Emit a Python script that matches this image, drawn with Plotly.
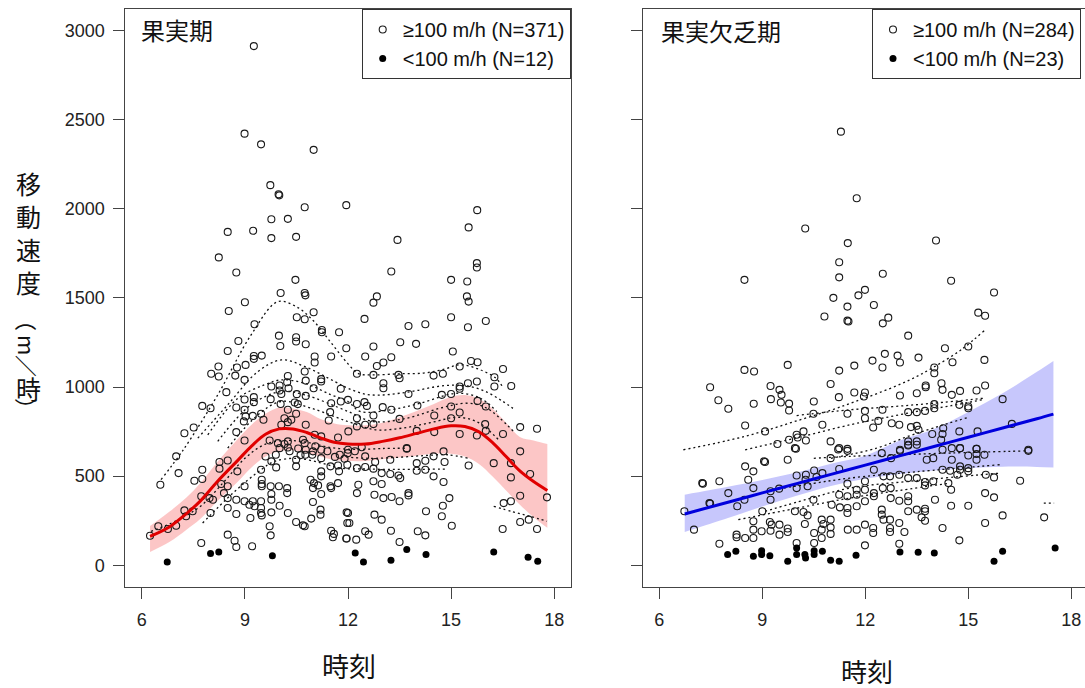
import plotly.graph_objects as go

W, H = 1085, 688
def px_x(p): return p / W
def px_y(p): return 1 - p / H

# ---------------- 果実期 (left panel) ----------------
fruit_open = [
 (9.26,2912),(8.99,2421),(9.47,2361),(11.00,2330),(9.74,2132),(9.98,2081),(10.00,2075),(10.74,2008),(11.95,2020),
 (9.77,1941),(10.25,1943),(8.50,1870),(9.24,1876),(9.77,1835),(10.49,1842),(8.24,1727),(8.75,1642),(10.47,1601),
 (10.04,1527),(10.74,1527),(10.76,1514),
 (15.76,1992),(15.51,1895),(13.44,1825),(15.75,1695),(15.75,1670),(13.26,1648),(15.00,1601),(15.47,1592),(12.84,1508),(15.46,1508),
 (9.00,1475),(8.53,1426),(11.00,1419),(10.51,1391),(10.74,1380),(9.28,1352),(11.24,1320),(11.24,1307),(11.74,1307),(9.99,1288),
 (10.49,1279),(10.49,1255),(10.03,1230),(10.77,1240),(8.81,1258),(8.50,1202),(9.26,1174),(9.26,1158),(9.49,1176),(11.03,1171),
 (11.03,1137),(11.51,1171),(11.95,1217),(8.23,1115),(8.02,1074),(8.24,1059),(8.77,1109),(9.02,1124),(8.72,1064),(8.99,1040),
 (10.25,1062),(10.23,1027),(10.74,1087),(11.22,1044),(11.22,1031),(11.79,990),(10.77,1036),(11.00,993),(9.77,1003),(10.01,1008),
 (10.01,980),(10.06,961),(10.27,993),(8.46,971),(10.51,960),(10.77,950),(9.26,943),(9.26,915),(8.99,930),(9.75,932),(7.76,894),
 (8.00,881),(8.75,885),(10.04,905),(10.45,913),(10.54,904),(10.25,872),(10.49,850),(11.51,909),(11.79,919),(12.00,928),(11.48,859),
 (11.44,812),(8.99,872),(9.02,835),(8.97,807),(9.23,838),(9.47,850),(9.54,816),(8.75,747),(7.24,741),(7.51,773),(8.99,700),
 (10.15,825),(10.25,803),(10.35,816),(10.06,788),(10.77,788),(11.03,732),(11.22,723),(11.71,717),(9.72,700),(9.96,685),(10.15,680),
 (10.25,695),(10.69,704),(10.74,685),
 (12.74,1473),(15.51,1479),(12.48,1382),(13.76,1342),(14.25,1352),(15.00,1391),(15.49,1335),(16.01,1370),(12.74,1227),(13.52,1251),
 (13.98,1242),(12.50,1171),(13.26,1167),(13.03,1137),(12.84,1118),(15.05,1199),(12.26,1074),(12.74,1068),(13.47,1068),(13.50,1049),
 (13.03,1021),(13.03,993),(14.49,1064),(14.76,1074),(15.25,1115),(15.58,1146),(15.77,1139),(16.51,1101),(16.26,1055),(16.26,1003),
 (16.75,1006),(15.49,1021),(15.75,1031),(15.25,1003),(15.25,990),(13.76,961),(14.73,956),(15.00,961),(12.26,905),(12.48,915),
 (12.55,894),(13.01,887),(13.26,872),(14.02,896),(15.77,922),(16.01,891),(15.00,891),(15.25,857),(15.00,825),(14.51,840),(12.26,825),
 (12.74,840),(12.50,788),(12.74,792),(12.26,779),(12.01,751),(13.50,821),(15.99,792),(17.01,775),(17.50,766),(14.00,754),(14.51,747),
 (15.25,736),(15.75,728),(16.01,754),(16.51,736),(13.71,657),
 (7.00,611),(7.07,517),(6.54,452),(6.48,219),(6.24,166),(6.76,204),(7.00,222),(7.24,308),(7.48,303),(7.29,275),(7.53,474),(7.76,536),
 (7.76,484),(7.73,387),(7.97,377),(8.00,293),(8.26,579),(8.26,542),(8.50,588),(8.31,456),(8.50,443),(8.39,405),(8.07,368),(8.50,377),
 (8.75,368),(8.50,321),(8.78,527),(8.75,288),(8.99,443),(8.99,359),(9.13,340),(9.23,359),(9.47,359),(9.28,331),(9.47,321),(9.47,293),
 (9.49,280),(9.16,265),(9.49,480),(9.49,456),(9.49,443),(9.75,443),(9.99,443),(10.23,433),(10.23,405),(9.77,400),(9.77,368),(10.01,334),
 (9.77,297),(10.25,293),(9.72,219),(9.75,168),(8.50,172),(8.70,138),(8.75,103),(9.21,107),(7.73,125),(10.49,243),(10.69,224),(10.74,219),
 (10.93,262),(11.20,284),(11.20,312),(10.98,355),(11.22,400),(10.98,433),(11.01,461),(10.91,480),(11.13,448),(11.22,499),(11.22,527),
 (10.49,555),(10.49,592),(10.76,620),(10.77,648),(10.96,620),(10.98,639),(11.22,601),(11.22,648),(11.49,555),(11.71,560),(11.74,527),
 (11.49,443),(11.51,433),(11.71,461),(11.51,194),(11.59,176),(11.56,157),(11.95,150),(11.98,237),(12.00,293),(9.77,583),(9.91,549),
 (9.47,536),(10.01,657),(10.25,661),(11.76,620),(12.00,648),
 (10.30,640),(10.55,655),(10.62,618),(11.05,668),(11.40,640),(11.62,608),(11.90,598),(12.20,640),(12.40,662),(9.90,620),(9.60,610),
 (11.99,629),(11.98,564),(12.26,545),(12.50,551),(12.74,542),(12.98,517),(13.23,512),(13.47,504),(13.52,489),(14.00,530),(14.25,536),
 (14.49,499),(14.78,467),(12.74,471),(12.98,456),(12.30,452),(12.26,405),(12.77,396),(13.03,377),(13.27,383),(13.50,359),(13.76,405),
 (13.76,392),(13.71,654),(13.23,592),(12.79,579),(12.50,611),(14.00,573),(14.25,586),(14.49,611),(14.78,639),(14.81,579),(15.51,560),
 (16.24,573),(16.74,573),(17.01,639),(16.74,493),(17.30,512),(17.01,390),(17.79,381),(16.53,349),(16.74,359),(14.95,377),(14.76,334),
 (14.73,275),(15.02,222),(14.27,303),(17.01,243),(17.26,256),(17.50,204),(16.50,204),(12.77,284),(12.98,256),(11.96,297),(12.04,237),
 (11.96,150),(12.24,144),(12.50,191),(12.60,172),(13.25,194),(13.50,131),(14.03,191),(14.25,168),
]
fruit_open_hour = [p[0] for p in fruit_open]
fruit_open_speed = [p[1] for p in fruit_open]

fruit_slow_hour = [6.74, 8.00, 8.24, 9.80, 12.21, 12.45, 13.25, 13.71, 14.27, 16.24, 17.24, 17.52]
fruit_slow_speed = [19, 66, 75, 54, 69, 19, 28, 88, 60, 75, 45, 23]

fruit_fit_hour = [6.24, 6.8, 7.3, 7.7, 8.2, 8.8, 9.2, 9.6, 10.0, 10.4, 10.8, 11.2, 11.6, 12.0, 12.5, 13.0,
                  13.5, 14.0, 14.5, 15.0, 15.4, 15.8, 16.2, 16.6, 17.0, 17.4, 17.8]
fruit_fit_speed = [162, 215, 290, 360, 470, 590, 670, 735, 765, 765, 745, 715, 690, 680, 680, 695,
                   715, 740, 765, 782, 778, 750, 690, 610, 530, 470, 420]
fruit_fit_lo = [75, 130, 200, 260, 360, 470, 550, 610, 640, 645, 630, 610, 590, 585, 585, 595,
                605, 615, 625, 625, 610, 570, 500, 420, 340, 270, 210]
fruit_fit_hi = [220, 300, 380, 460, 580, 710, 790, 850, 885, 880, 860, 820, 795, 785, 785, 800,
                830, 865, 905, 945, 955, 935, 880, 800, 720, 700, 680]

fruit_ind_1 = ([6.56, 7.24, 8.21, 9.18, 9.96, 10.5, 11.0, 11.5, 12.0, 12.3, 12.74, 13.47, 14.2, 14.8, 15.25, 15.8, 16.3, 16.5],
               [480, 657, 956, 1292, 1479, 1450, 1370, 1250, 1130, 1075, 1068, 1074, 1078, 1100, 1125, 1100, 1050, 1000])
fruit_ind_2 = ([7.63, 8.5, 9.38, 10.06, 10.74, 11.61, 12.0, 12.5, 13.0, 13.5, 14.0, 14.5, 15.0, 15.5, 16.0, 16.5, 16.8],
               [713, 900, 1087, 1152, 1115, 1031, 993, 960, 955, 965, 980, 1000, 1010, 1005, 975, 920, 880])
fruit_ind_3 = ([7.92, 8.8, 9.57, 10.06, 10.74, 11.51, 12.0, 12.35, 13.23, 14.1, 15.17, 15.85, 16.33],
               [732, 937, 1012, 1040, 1021, 956, 919, 863, 872, 909, 965, 937, 863])
fruit_ind_4 = ([8.21, 9.18, 10.06, 10.74, 12.0, 12.74, 13.71, 14.68, 15.46, 16.04, 16.82],
               [695, 900, 975, 956, 863, 806, 825, 881, 909, 881, 750])
fruit_ind_5 = ([8.5, 9.38, 10.06, 10.93, 12.0, 12.8, 13.6, 14.4, 15.2, 15.8, 16.4],
               [657, 844, 919, 881, 806, 760, 770, 800, 830, 800, 700])
fruit_ind_6 = ([7.77, 8.65, 9.47, 9.86, 10.5, 11.2, 11.8, 12.5, 13.2, 14.0, 14.9],
               [237, 405, 536, 583, 600, 575, 545, 540, 538, 538, 540])
fruit_ind_7 = ([6.27, 7.0, 7.7, 8.4, 9.0, 9.6, 10.2, 10.8, 11.5, 12.2, 13.0, 13.7],
               [190, 250, 330, 470, 600, 680, 700, 690, 660, 650, 655, 657])
fruit_ind_8 = ([16.24, 16.8, 17.3, 17.79], [331, 300, 275, 247])
fruit_ind_9 = ([11.8, 12.6, 13.4, 14.2, 14.9, 15.5], [610, 600, 605, 615, 620, 600])
fruit_ind = [fruit_ind_1, fruit_ind_2, fruit_ind_3, fruit_ind_4, fruit_ind_5, fruit_ind_6,
             fruit_ind_7, fruit_ind_8, fruit_ind_9]

# ---------------- 果実欠乏期 (right panel) ----------------
lean_open = [
 (11.29,2432),(11.75,2059),(10.25,1889),(11.49,1807),(11.24,1700),(11.24,1615),(8.48,1601),(11.07,1500),
 (14.06,1822),(12.51,1635),(14.50,1596),(11.99,1545),(11.80,1514),(15.75,1530),
 (11.48,1451),(10.81,1395),(11.48,1372),(11.51,1367),(9.74,1124),(8.48,1096),(8.76,1087),(11.24,1092),(11.68,1120),(7.48,999),
 (9.24,1006),(9.50,984),(9.56,956),(7.72,926),(8.01,878),(8.75,906),(9.25,932),(9.54,913),(9.78,907),(9.78,868),(10.99,1017),
 (11.23,943),(11.68,969),(10.50,919),(10.49,850),(11.48,850),(8.50,784),(9.08,751),(10.75,788),(10.20,751),(10.00,732),(10.03,717),
 (10.27,700),(9.78,704),(9.44,680),(9.95,657),(10.99,695),(11.24,657),(11.48,653),
 (12.25,1460),(12.67,1389),(12.51,1357),(15.29,1417),(15.49,1400),(13.25,1288),(12.57,1186),(12.94,1176),(13.01,1137),(13.55,1165),
 (12.21,1148),(12.50,1109),(14.32,1217),(15.00,1227),(14.54,1139),(15.47,1152),(14.01,1109),(14.01,1077),(13.76,1008),(13.76,999),
 (14.22,1021),(14.25,984),(14.52,956),(14.76,978),(15.24,980),(15.49,1008),(13.50,965),(13.01,952),(11.99,969),(11.96,947),
 (12.50,872),(11.99,866),(11.99,825),(12.38,810),(12.23,773),(12.77,797),(12.99,788),(13.25,859),(13.50,859),(13.74,866),(14.01,904),
 (14.01,881),(14.74,900),(15.00,891),(15.00,881),(16.00,932),(16.27,793),(13.33,775),(13.50,782),(13.55,760),(14.27,769),(14.25,736),
 (13.95,736),(14.21,704),(14.74,751),(15.27,751),(13.25,695),(13.50,695),(13.25,676),(13.50,676),(13.01,648),(14.52,657),(14.76,657),
 (15.24,653),(16.75,648),
 (9.98,654),(9.74,592),(9.05,583),(9.08,579),(8.50,555),(8.74,527),(8.59,480),(7.25,461),(7.27,458),(7.75,471),(8.74,433),(8.01,405),
 (8.48,368),(8.27,331),(7.46,349),(7.48,346),(6.73,303),(7.01,200),(7.75,121),(9.00,303),(9.24,415),(9.49,430),(9.24,368),(10.00,504),
 (10.27,508),(10.51,532),(10.58,495),(10.75,517),(10.26,480),(10.32,443),(10.00,433),(10.99,601),(11.21,650),(11.48,642),(11.24,540),
 (11.48,458),(11.24,396),(11.48,387),(10.49,368),(11.02,340),(11.26,325),(11.48,321),(11.48,293),(9.95,303),(10.20,299),(10.32,280),
 (8.74,247),(9.22,243),(9.27,228),(9.50,228),(9.74,206),(9.74,187),(10.24,232),(10.73,256),(10.99,256),(10.78,232),(10.99,213),
 (10.73,200),(10.99,176),(10.51,181),(10.73,153),(10.51,125),(11.49,200),(8.74,200),(8.98,191),(9.24,194),(9.50,172),(8.25,172),
 (8.25,157),(8.50,153),(8.74,153),(10.00,125),
 (12.48,629),(13.01,642),(13.25,672),(12.75,601),(13.79,592),(13.98,601),(14.25,648),(14.52,592),(14.76,657),(15.00,616),(15.24,654),
 (15.24,624),(15.24,592),(15.47,620),(16.75,642),(12.53,499),(12.72,499),(12.99,508),(13.25,489),(13.50,489),(13.74,467),(13.74,448),
 (13.98,471),(14.25,536),(14.47,530),(14.76,555),(14.76,536),(15.00,545),(15.00,527),(14.68,508),(14.42,461),(14.50,424),(15.51,508),
 (15.75,493),(16.51,474),(15.49,405),(15.75,381),(12.25,536),(11.99,471),(12.25,405),(12.25,387),(11.75,424),(11.99,424),(11.75,396),
 (11.99,359),(12.51,433),(12.74,433),(12.74,377),(12.99,362),(13.25,387),(13.25,359),(13.25,303),(13.50,312),(13.74,317),(13.74,303),
 (13.74,250),(13.64,269),(14.03,368),(14.50,334),(15.00,334),(12.48,312),(12.48,284),(12.53,256),(12.72,256),(12.99,237),(12.72,209),
 (12.72,187),(12.23,209),(12.23,181),(11.99,228),(11.75,331),(11.75,200),(11.99,112),(13.14,187),(12.99,121),(14.25,209),(14.74,140),
 (15.49,237),(16.00,280),(17.21,269),
]
lean_open_hour = [p[0] for p in lean_open]
lean_open_speed = [p[1] for p in lean_open]

lean_slow_hour = [7.99, 8.23, 8.74, 8.98, 8.98, 9.22, 9.74, 10.00, 10.00, 10.24, 10.26, 10.51, 10.51, 10.75,
                  10.99, 11.24, 11.73, 13.01, 13.54, 14.01, 15.75, 16.00, 17.53]
lean_slow_speed = [60, 79, 51, 82, 60, 54, 23, 97, 60, 60, 41, 82, 60, 79, 28, 23, 56, 75, 73, 69, 23, 79, 97]

lean_fit_hour = [6.74, 8.0, 9.0, 10.0, 11.0, 12.0, 13.0, 14.0, 15.0, 16.0, 17.0, 17.48]
lean_fit_speed = [288, 354, 406, 458, 510, 562, 614, 666, 718, 770, 822, 848]
lean_fit_lo = [187, 265, 330, 390, 445, 485, 512, 532, 545, 553, 552, 548]
lean_fit_hi = [396, 440, 478, 520, 570, 615, 700, 765, 860, 965, 1085, 1146]

lean_ind_1 = ([6.7, 8.0, 9.0, 10.0, 11.0, 11.7, 12.5, 13.3, 13.98, 14.8, 15.49],
              [648, 700, 750, 810, 870, 918, 975, 1040, 1110, 1210, 1320])
lean_ind_2 = ([8.5, 10.0, 11.6, 12.5, 13.5, 14.5, 15.44], [648, 715, 790, 825, 863, 895, 930])
lean_ind_3 = ([10.0, 11.55, 12.8, 13.98, 15.44], [840, 872, 890, 909, 937])
lean_ind_4 = ([11.0, 12.33, 13.2, 13.98, 15.0], [600, 657, 720, 770, 830])
lean_ind_5 = ([10.5, 11.55, 13.0, 14.5, 16.75], [600, 611, 620, 630, 642])
lean_ind_6 = ([9.2, 10.5, 11.55, 13.5, 15.92], [420, 460, 489, 525, 564])
lean_ind_7 = ([9.08, 10.3, 11.55, 13.5, 15.92], [303, 370, 433, 475, 517])
lean_ind_8 = ([8.3, 10.0, 11.55, 13.0, 14.47], [256, 320, 377, 420, 461])
lean_ind_9 = ([17.2, 17.5], [349, 349])
lean_ind = [lean_ind_1, lean_ind_2, lean_ind_3, lean_ind_4, lean_ind_5, lean_ind_6,
            lean_ind_7, lean_ind_8, lean_ind_9]

legend_labels_fruit = ["≥100 m/h (N=371)", "<100 m/h (N=12)"]
legend_labels_lean = ["≥100 m/h (N=284)", "<100 m/h (N=23)"]
panel_titles = ["果実期", "果実欠乏期"]
x_title = "時刻"
# (character, rotated?)
y_title_chars = [("移", False), ("動", False), ("速", False), ("度", False), ("（", True),
                 ("m", True), ("／", True), ("時", False), ("）", True)]
x_ticks = [6, 9, 12, 15, 18]
y_ticks = [0, 500, 1000, 1500, 2000, 2500, 3000]

fig = go.Figure()

def add_panel(xa, ya, leg, fit_h, fit_s, lo, hi, band_col, line_col, inds,
              oh, os_, sh, ss, labels):
    fig.add_trace(go.Scatter(x=fit_h, y=lo, mode="lines", line=dict(width=0, shape="spline"),
                             xaxis=xa, yaxis=ya, showlegend=False, hoverinfo="skip"))
    fig.add_trace(go.Scatter(x=fit_h, y=hi, mode="lines", line=dict(width=0, shape="spline"),
                             fill="tonexty", fillcolor=band_col, xaxis=xa, yaxis=ya,
                             showlegend=False, hoverinfo="skip"))
    for hx, sy in inds:
        fig.add_trace(go.Scatter(x=hx, y=sy, mode="lines",
                                 line=dict(color="#111", width=1.3, dash="2px,3px", shape="spline"),
                                 xaxis=xa, yaxis=ya, showlegend=False, hoverinfo="skip"))
    fig.add_trace(go.Scatter(x=oh, y=os_, mode="markers", name=labels[0],
                             marker=dict(symbol="circle-open", size=7, color="#1a1a1a",
                                         line=dict(width=1.1, color="#1a1a1a")),
                             xaxis=xa, yaxis=ya, legend=leg))
    fig.add_trace(go.Scatter(x=sh, y=ss, mode="markers", name=labels[1],
                             marker=dict(symbol="circle", size=7, color="#000"),
                             xaxis=xa, yaxis=ya, legend=leg))
    fig.add_trace(go.Scatter(x=fit_h, y=fit_s, mode="lines",
                             line=dict(color=line_col, width=3, shape="spline"),
                             xaxis=xa, yaxis=ya, showlegend=False, hoverinfo="skip"))

add_panel("x", "y", "legend", fruit_fit_hour, fruit_fit_speed, fruit_fit_lo, fruit_fit_hi,
          "rgba(245,60,60,0.29)", "#e00000", fruit_ind,
          fruit_open_hour, fruit_open_speed, fruit_slow_hour, fruit_slow_speed, legend_labels_fruit)
add_panel("x2", "y2", "legend2", lean_fit_hour, lean_fit_speed, lean_fit_lo, lean_fit_hi,
          "rgba(70,70,245,0.30)", "#0000dd", lean_ind,
          lean_open_hour, lean_open_speed, lean_slow_hour, lean_slow_speed, legend_labels_lean)

tickfont = dict(family="Liberation Sans, Arial, sans-serif", size=18, color="#222")
xa_common = dict(tickvals=x_ticks, ticks="outside", ticklen=11, tickwidth=1, tickcolor="#444",
                 showline=True, linecolor="#444", linewidth=1, showgrid=False, zeroline=False,
                 tickfont=tickfont, ticklabelstandoff=6)
ya_common = dict(tickvals=y_ticks, ticks="outside", ticklen=11, tickwidth=1, tickcolor="#444",
                 showline=True, linecolor="#444", linewidth=1, showgrid=False, zeroline=False,
                 tickfont=tickfont, range=[-120, 3120], ticklabelstandoff=5)

legfont = dict(family="Liberation Sans, Arial", size=20, color="#111")
ydom = [px_y(586.7), px_y(9)]
fig.update_layout(
    width=W, height=H, margin=dict(l=0, r=0, t=0, b=0),
    paper_bgcolor="white", plot_bgcolor="white",
    xaxis=dict(domain=[px_x(125.3), px_x(570.7)], range=[5.52, 18.48], anchor="y", mirror=True, **xa_common),
    yaxis=dict(domain=ydom, anchor="x", mirror=True, **ya_common),
    xaxis2=dict(domain=[px_x(642.7), 1.0], range=[5.516, 18.40], anchor="y2", mirror=True, **xa_common),
    yaxis2=dict(domain=ydom, anchor="x2", mirror=False, showticklabels=False, **ya_common),
    legend=dict(x=px_x(570.7), y=px_y(9), xanchor="right", yanchor="top", bgcolor="white",
                bordercolor="#333", borderwidth=1, font=legfont, traceorder="normal",
                tracegroupgap=0, itemwidth=30),
    legend2=dict(x=px_x(1081), y=px_y(9), xanchor="right", yanchor="top", bgcolor="white",
                 bordercolor="#333", borderwidth=1, font=legfont, traceorder="normal",
                 tracegroupgap=0, itemwidth=30),
)

cjk = "Noto Sans CJK JP"
ann = []
ann.append(dict(x=px_x(139), y=px_y(30), xref="paper", yref="paper", text=panel_titles[0],
                showarrow=False, xanchor="left", yanchor="middle", font=dict(family=cjk, size=24, color="#111")))
ann.append(dict(x=px_x(658.5), y=px_y(31), xref="paper", yref="paper", text=panel_titles[1],
                showarrow=False, xanchor="left", yanchor="middle", font=dict(family=cjk, size=24, color="#111")))
ann.append(dict(x=px_x(349), y=px_y(665), xref="paper", yref="paper", text=x_title,
                showarrow=False, xanchor="center", yanchor="middle", font=dict(family=cjk, size=27, color="#111")))
ann.append(dict(x=px_x(867), y=px_y(670), xref="paper", yref="paper", text=x_title,
                showarrow=False, xanchor="center", yanchor="middle", font=dict(family=cjk, size=26, color="#111")))
y_positions = [183, 216, 249, 282, 320, 345, 366, 388, 409]
for (ch, rot), yp in zip(y_title_chars, y_positions):
    ann.append(dict(x=px_x(28), y=px_y(yp), xref="paper", yref="paper", text=ch, showarrow=False,
                    textangle=90 if rot else 0, xanchor="center", yanchor="middle",
                    font=dict(family=cjk, size=22 if rot else 25, color="#111")))
fig.update_layout(annotations=ann)

fig.write_html("out.html", config={"displayModeBar": False},
               post_script="document.body.style.margin='0';document.body.style.overflow='hidden';")
